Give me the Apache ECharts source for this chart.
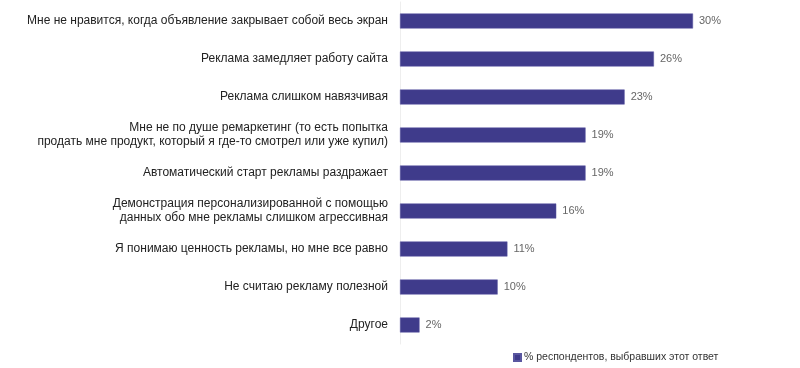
<!DOCTYPE html>
<html>
<head>
<meta charset="utf-8">
<script src="https://cdn.jsdelivr.net/npm/echarts@6/dist/echarts.min.js"></script>
<style>html,body{margin:0;padding:0;background:#fff;}#c{width:800px;height:368px;}</style>
</head>
<body>
<div id="c"></div>
<script>
const categories = [
  'Мне не нравится, когда объявление закрывает собой весь экран',
  'Реклама замедляет работу сайта',
  'Реклама слишком навязчивая',
  'Мне не по душе ремаркетинг (то есть попытка\nпродать мне продукт, который я где-то смотрел или уже купил)',
  'Автоматический старт рекламы раздражает',
  'Демонстрация персонализированной с помощью\nданных обо мне рекламы слишком агрессивная',
  'Я понимаю ценность рекламы, но мне все равно',
  'Не считаю рекламу полезной',
  'Другое'
];
const values = [30, 26, 23, 19, 19, 16, 11, 10, 2];
const seriesName = '% респондентов, выбравших этот ответ';

const chart = echarts.init(document.getElementById('c'));
chart.setOption({
  animation: false,
  textStyle: {fontFamily: 'Liberation Sans, Arial, sans-serif'},
  grid: {left: 400, right: 107, top: 2, height: 342},
  legend: {
    data: [seriesName],
    left: 508, top: 347,
    itemWidth: 7, itemHeight: 7, itemGap: 4,
    icon: 'rect',
    textStyle: {fontSize: 10.5, color: '#333', padding: [0,0,0,-2]}
  },
  xAxis: {
    type: 'value', min: 0, max: 30,
    show: false
  },
  yAxis: {
    type: 'category',
    data: categories,
    inverse: true,
    axisLine: {show: true, lineStyle: {color: '#eeeeee', width: 1}},
    axisTick: {show: false},
    axisLabel: {color: '#222', fontSize: 12, margin: 12, lineHeight: 14, align: 'right'}
  },
  series: [{
    name: seriesName,
    type: 'bar',
    data: values,
    barWidth: 15,
    itemStyle: {color: '#3f3b8b', borderColor: '#5a57a0', borderWidth: 0.5},
    label: {
      show: true, position: 'right', distance: 6,
      formatter: p => p.value + '%',
      color: '#666', fontSize: 11
    }
  }]
});
</script>
</body>
</html>
